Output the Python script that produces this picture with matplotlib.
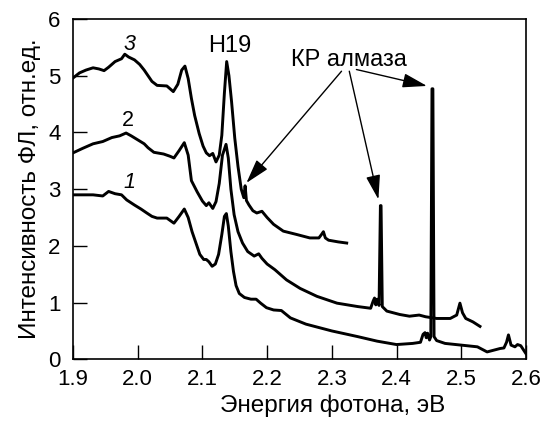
"""PL spectra of diamond samples: three curves, H19 line and diamond Raman lines."""

import matplotlib

matplotlib.use("Agg")
import matplotlib.pyplot as plt
import numpy as np

plt.rcParams.update({
    "font.family": ["Liberation Sans", "DejaVu Sans"],
    "font.size": 16,
})

# curve 1 (bottom)
e1 = [1.900, 1.915, 1.931, 1.946, 1.955, 1.965, 1.975, 1.983, 1.995, 2.005,
      2.014, 2.022, 2.030, 2.045, 2.056, 2.064, 2.072, 2.078, 2.084, 2.090,
      2.096, 2.102, 2.106, 2.110, 2.115, 2.120, 2.125, 2.130, 2.134, 2.137,
      2.140, 2.144, 2.148, 2.152, 2.157, 2.165, 2.175, 2.183, 2.190, 2.199,
      2.210, 2.222, 2.236, 2.260, 2.280, 2.300, 2.320, 2.340, 2.370, 2.400,
      2.425, 2.437, 2.441, 2.444, 2.446, 2.448, 2.451, 2.453, 2.4548, 2.4562,
      2.458, 2.462, 2.475, 2.500, 2.525, 2.540, 2.550, 2.560, 2.566, 2.570,
      2.573, 2.577, 2.583, 2.587, 2.592, 2.600]
i1 = [2.90, 2.90, 2.90, 2.88, 2.96, 2.92, 2.90, 2.81, 2.72, 2.65,
      2.58, 2.52, 2.49, 2.49, 2.40, 2.52, 2.65, 2.50, 2.25, 2.05,
      1.85, 1.76, 1.76, 1.72, 1.64, 1.68, 1.85, 2.20, 2.52, 2.57,
      2.35, 1.90, 1.55, 1.30, 1.16, 1.09, 1.06, 1.06, 0.99, 0.91,
      0.87, 0.86, 0.73, 0.62, 0.56, 0.50, 0.45, 0.40, 0.32, 0.26,
      0.28, 0.30, 0.44, 0.47, 0.38, 0.46, 0.34, 0.40, 4.77, 4.77,
      0.40, 0.33, 0.28, 0.25, 0.22, 0.13, 0.16, 0.19, 0.20, 0.30,
      0.43, 0.25, 0.22, 0.26, 0.24, 0.10]

# curve 2 (middle)
e2 = [1.900, 1.915, 1.931, 1.946, 1.960, 1.972, 1.982, 1.990, 2.000, 2.010,
      2.016, 2.025, 2.040, 2.050, 2.056, 2.064, 2.072, 2.078, 2.083, 2.092,
      2.100, 2.106, 2.110, 2.116, 2.121, 2.126, 2.131, 2.1365, 2.140, 2.144,
      2.149, 2.155, 2.162, 2.170, 2.180, 2.187, 2.192, 2.200, 2.212, 2.230,
      2.251, 2.277, 2.308, 2.340, 2.360, 2.364, 2.366, 2.368, 2.370, 2.373,
      2.3751, 2.3761, 2.378, 2.385, 2.405, 2.420, 2.435, 2.445, 2.462, 2.483,
      2.493, 2.498, 2.502, 2.507, 2.518, 2.529]
i2 = [3.64, 3.72, 3.80, 3.84, 3.91, 3.94, 3.99, 3.94, 3.87, 3.80,
      3.73, 3.65, 3.62, 3.58, 3.55, 3.68, 3.82, 3.60, 3.15, 2.95,
      2.79, 2.71, 2.76, 2.66, 2.78, 3.10, 3.60, 3.79, 3.55, 3.00,
      2.55, 2.25, 2.05, 1.90, 1.82, 1.86, 1.78, 1.68, 1.58, 1.40,
      1.25, 1.11, 0.99, 0.93, 0.90, 1.03, 1.08, 0.96, 1.06, 0.95,
      2.71, 2.71, 0.93, 0.85, 0.79, 0.76, 0.78, 0.75, 0.72, 0.72,
      0.78, 0.99, 0.82, 0.72, 0.66, 0.58]

# curve 3 (top)
e3 = [1.900, 1.910, 1.920, 1.931, 1.940, 1.948, 1.955, 1.965, 1.975, 1.980,
      1.986, 1.995, 2.003, 2.010, 2.016, 2.022, 2.030, 2.045, 2.055, 2.062,
      2.068, 2.073, 2.078, 2.083, 2.088, 2.095, 2.101, 2.106, 2.111, 2.116,
      2.121, 2.126, 2.130, 2.134, 2.1375, 2.141, 2.145, 2.150, 2.155, 2.160,
      2.164, 2.166, 2.168, 2.172, 2.178, 2.184, 2.192, 2.200, 2.210, 2.225,
      2.246, 2.266, 2.280, 2.284, 2.287, 2.290, 2.295, 2.310, 2.323]
i3 = [4.96, 5.05, 5.10, 5.14, 5.12, 5.09, 5.15, 5.25, 5.30, 5.38,
      5.33, 5.28, 5.20, 5.10, 5.00, 4.90, 4.83, 4.82, 4.72, 4.85,
      5.10, 5.17, 4.95, 4.60, 4.30, 3.98, 3.76, 3.64, 3.59, 3.63,
      3.48, 3.60, 3.95, 4.70, 5.25, 5.00, 4.55, 3.90, 3.40, 3.00,
      2.85, 3.06, 2.80, 2.72, 2.62, 2.58, 2.61, 2.50, 2.38, 2.26,
      2.20, 2.14, 2.14, 2.20, 2.25, 2.14, 2.10, 2.07, 2.05]

curves = [(e1, i1), (e2, i2), (e3, i3)]
curve_labels = ["1", "2", "3"]
label_pos = [(1.987, 3.11), (1.985, 4.21), (1.988, 5.55)]
label_italic = [True, False, True]

# Raman arrows: text anchor -> tip
raman_starts = [(2.315, 5.08), (2.327, 5.08), (2.338, 5.11)]
raman_tips = [(2.168, 3.11), (2.372, 2.82), (2.447, 4.82)]

fig = plt.figure(figsize=(5.51, 4.23), dpi=100)
ax = fig.add_axes([0.1325, 0.1506, 0.822, 0.8044])

for e, i in curves:
    ax.plot(np.array(e), np.array(i), color="k", lw=2.1,
            solid_joinstyle="round")

for lbl, (x, y), it in zip(curve_labels, label_pos, label_italic):
    ax.text(x, y, lbl, ha="center", va="center", fontsize=15.5,
            style="italic" if it else "normal")

ax.text(2.142, 5.42, "H19", ha="center", va="baseline", fontsize=17)
ax.text(2.326, 5.18, "КР алмаза", ha="center", va="baseline", fontsize=17)
for s, t in zip(raman_starts, raman_tips):
    ax.annotate("", xy=t, xytext=s,
                arrowprops=dict(arrowstyle="-|>,head_length=0.75,head_width=0.22",
                                mutation_scale=20, lw=1.0, color="k",
                                shrinkA=0, shrinkB=0))

ax.set_xlim(1.9, 2.6)
ax.set_ylim(0, 6)
ax.set_xticks(np.arange(1.9, 2.61, 0.1))
ax.set_xticklabels([f"{v:.1f}" for v in np.arange(1.9, 2.61, 0.1)])
ax.set_yticks(range(7))
ax.tick_params(direction="in", length=10, width=1.0, labelsize=16)
ax.tick_params(axis="x", pad=7)
ax.tick_params(axis="y", pad=9)
for sp in ax.spines.values():
    sp.set_linewidth(1.2)

ax.set_xlabel("Энергия фотона, эВ", fontsize=17.5, x=0.574, labelpad=3)
ax.set_ylabel("Интенсивность ФЛ, отн.ед.", fontsize=17.5, labelpad=5)

fig.savefig("out.png", dpi=100)
